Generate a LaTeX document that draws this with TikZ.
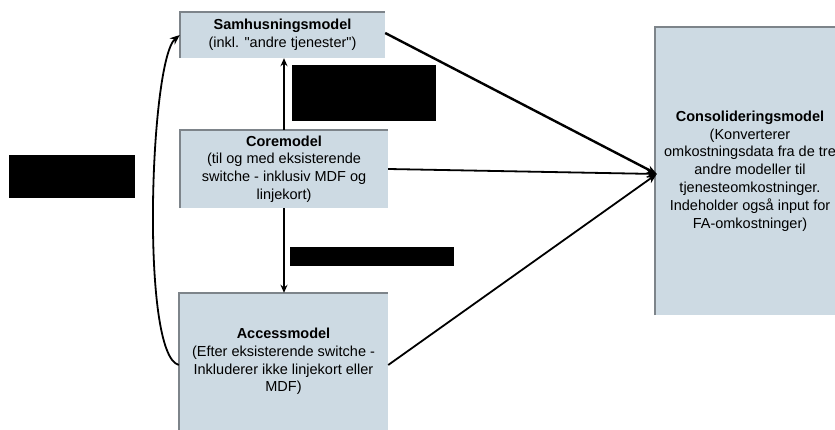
\documentclass[tikz,border=0pt]{standalone}
\usepackage{fontspec}
\setmainfont{Liberation Sans}[Ligatures=TeXOff]
\usetikzlibrary{arrows.meta,calc}
\definecolor{boxfill}{RGB}{205,218,227}
\definecolor{boxedge}{RGB}{125,132,138}
\tikzset{
  modelbox/.style={rectangle, fill=boxfill, draw=none, inner sep=0pt, align=center,
    font=\fontsize{14.5}{17.8}\selectfont},
  redact/.style={rectangle, fill=black, draw=none, inner sep=0pt},
  edgeline/.style={draw=boxedge, line width=2.2pt},
  arr/.style={draw=black, line width=1.8pt, -{Stealth[length=10pt,width=8pt]}},
  thickarr/.style={draw=black, line width=2.4pt, -{Stealth[length=10pt,width=8pt]}},
  varr/.style={draw=black, line width=1.5pt, -{Stealth[length=8pt,width=7pt]}},
}
\begin{document}
\begin{tikzpicture}[x=1pt,y=-1pt]
\clip (0,0) rectangle (835,430);
\fill[white] (0,0) rectangle (835,430);

% boxes
\node[modelbox, minimum width=205pt, minimum height=46pt] (sam) at (282.5,35)
  {\textbf{Samhusningsmodel}\\(inkl. "andre tjenester")};
\node[modelbox, minimum width=208pt, minimum height=78pt] (core) at (284,169)
  {\textbf{Coremodel}\\(til og med eksisterende\\switche - inklusiv MDF og\\linjekort)};
\node[modelbox, minimum width=209pt, minimum height=137pt] (acc) at (283.5,361.5)
  {\textbf{Accessmodel}\\(Efter eksisterende switche -\\Inkluderer ikke linjekort eller\\MDF)};
\node[modelbox, minimum width=190pt, minimum height=288pt] (con) at (750,171)
  {\textbf{Consolideringsmodel}\\(Konverterer\\omkostningsdata fra de tre\\andre modeller til\\tjenesteomkostninger.\\Indeholder også input for\\FA-omkostninger)};

% box edges (top and left)
\foreach \b in {sam,core,acc,con}{
  \draw[edgeline] (\b.south west) -- (\b.north west) -- (\b.north east);
}

% redacted labels
\node[redact, minimum width=144pt, minimum height=56pt] (r1) at (364,93) {};
\node[redact, minimum width=164pt, minimum height=19pt] (r2) at (372,256.5) {};
\node[redact, minimum width=126pt, minimum height=43pt] (r3) at (72,176.5) {};

% connectors
\draw[varr] (core.north) -- (core.north |- sam.south);
\draw[varr] (core.south) -- (core.south |- acc.north);
\draw[arr] ($(acc.west)+(0,3.5)$) .. controls (140,355) and (150,60) .. (sam.west);
\draw[thickarr] ($(sam.east)+(0,-2)$) -- ($(con.west)+(2,3)$);
\draw[arr] (core.east) -- ($(con.west)+(2,3)$);
\draw[arr] ($(acc.east)+(0,3.5)$) -- ($(con.west)+(2,3)$);
\end{tikzpicture}
\end{document}
